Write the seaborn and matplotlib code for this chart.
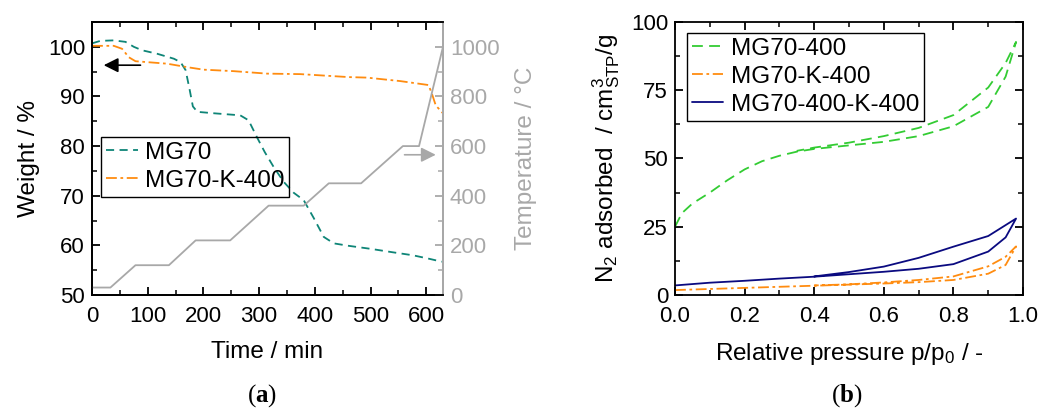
import matplotlib
matplotlib.use("Agg")
import matplotlib.pyplot as plt
import numpy as np
import pandas as pd
import seaborn as sns

########################################
# Data

# (a) thermogravimetry, weight in % against time in min
mg70_time = [0, 15, 39, 60, 75, 90, 117, 147, 159, 168, 175, 181, 189, 220, 266, 281,
             296, 310, 326, 344, 362, 380, 398, 416, 434, 461, 500, 540, 576, 605, 628]
mg70_weight = [100.7, 101.2, 101.3, 101.0, 100.0, 99.3, 98.6, 97.6, 96.9, 95.3, 91.5, 88.0,
               86.9, 86.6, 86.2, 85.2, 81.8, 78.8, 75.8, 72.8, 70.6, 69.1, 65.5, 61.7,
               60.4, 59.9, 59.3, 58.6, 58.0, 57.3, 56.7]

mgk_time = [0, 39, 54, 66, 78, 135, 171, 200, 254, 314, 374, 461, 493, 553, 604, 610,
            617, 630]
mgk_weight = [100.2, 100.2, 99.6, 97.9, 97.1, 96.6, 95.9, 95.4, 95.1, 94.6, 94.5, 93.9,
              93.8, 93.1, 92.3, 90.6, 88.2, 86.6]

# furnace temperature programme, °C
temp_time = [0, 33, 78, 138, 186, 248, 317, 380, 425, 483, 558, 587, 630]
temp_value = [30, 30, 120, 120, 220, 220, 360, 360, 450, 450, 600, 600, 1000]

# (b) N2 isotherms: adsorption branch followed by desorption branch
p_green = [0.0, 0.02, 0.05, 0.1, 0.15, 0.2, 0.25, 0.3, 0.35, 0.4, 0.5, 0.6, 0.7, 0.8, 0.9,
           0.95, 0.98, 0.95, 0.9, 0.8, 0.7, 0.6, 0.5, 0.4, 0.35]
n2_green = [25.0, 30.0, 33.5, 37.5, 42.0, 46.0, 49.0, 51.0, 52.5, 53.5, 54.8, 56.1, 58.2,
            61.8, 68.9, 80.0, 92.7, 85.0, 76.0, 65.9, 61.2, 58.2, 55.8, 54.0, 52.8]

p_orange = [0.0, 0.1, 0.2, 0.3, 0.4, 0.5, 0.6, 0.7, 0.8, 0.9, 0.95, 0.98, 0.95, 0.9, 0.8,
            0.7, 0.6, 0.5, 0.4]
n2_orange = [1.8, 2.2, 2.6, 3.0, 3.4, 3.8, 4.2, 4.7, 5.5, 7.8, 11.0, 17.8, 14.0, 10.5,
             6.8, 5.5, 4.6, 3.9, 3.5]

p_blue = [0.0, 0.1, 0.2, 0.3, 0.4, 0.5, 0.6, 0.7, 0.8, 0.9, 0.95, 0.98, 0.95, 0.9, 0.8,
          0.7, 0.6, 0.5, 0.4]
n2_blue = [3.5, 4.5, 5.2, 6.0, 6.7, 7.6, 8.5, 9.6, 11.3, 15.9, 21.1, 28.0, 25.6, 21.6,
           17.7, 13.6, 10.4, 8.4, 6.8]

########################################
# Style

sns.set_theme(style="ticks")
rc = plt.rcParams
rc["font.family"] = ["Liberation Sans", "DejaVu Sans"]
rc["mathtext.fontset"] = "custom"
rc["mathtext.rm"] = "Liberation Sans"
rc["mathtext.it"] = "Liberation Sans:italic"
rc["mathtext.bf"] = "Liberation Serif:bold"
rc["font.size"] = 16
rc["axes.labelsize"] = 17.5
rc["xtick.labelsize"] = 16
rc["ytick.labelsize"] = 16
rc["legend.fontsize"] = 17.5
rc["axes.edgecolor"] = "black"
rc["axes.labelcolor"] = "black"
rc["xtick.color"] = "black"
rc["ytick.color"] = "black"
rc["text.color"] = "black"
rc["axes.linewidth"] = 1.3
rc["xtick.direction"] = "in"
rc["ytick.direction"] = "in"
rc["xtick.major.size"] = 6
rc["ytick.major.size"] = 6
rc["xtick.minor.size"] = 3.5
rc["ytick.minor.size"] = 3.5
rc["xtick.major.width"] = 1.3
rc["ytick.major.width"] = 1.3
rc["xtick.minor.width"] = 1.1
rc["ytick.minor.width"] = 1.1
rc["xtick.major.pad"] = 8
rc["ytick.major.pad"] = 5

teal = "#0e8577"
orange = "#ff8c10"
green = "#33cc33"
navy = "#0a0a80"
grey = "#a8a8a8"

legend_kw = dict(loc="upper left", borderaxespad=0, fancybox=False, edgecolor="black",
                 facecolor="none", framealpha=1, handlelength=1.3, borderpad=0.2,
                 labelspacing=0.25, handletextpad=0.3)

fig = plt.figure(figsize=(10.47, 4.16), dpi=100)
ax_a = fig.add_axes([0.0879, 0.2909, 0.3352, 0.6562])
ax_b = fig.add_axes([0.6447, 0.2909, 0.3324, 0.6562])

########################################
# (a) weight and temperature against time

sns.lineplot(x=mg70_time, y=mg70_weight, ax=ax_a, color=teal, lw=1.3,
             linestyle=(0, (4.5, 3)), label="MG70", sort=False, estimator=None)
sns.lineplot(x=mgk_time, y=mgk_weight, ax=ax_a, color=orange, lw=1.3,
             linestyle=(0, (6, 2, 1.5, 2)), label="MG70-K-400", sort=False, estimator=None)
ax_a.set_xlim(0, 630)
ax_a.set_ylim(50, 105)
ax_a.set_xticks(range(0, 601, 100))
ax_a.set_xticks(range(0, 631, 50), minor=True)
ax_a.set_yticks(range(50, 101, 10))
ax_a.set_yticks(range(50, 106, 5), minor=True)
ax_a.tick_params(which="both", top=True, right=False)
ax_a.set_xlabel("Time / min", labelpad=10)
ax_a.set_ylabel("Weight / %", labelpad=6)
ax_a.spines["right"].set_color(grey)
ax_a.legend(bbox_to_anchor=(0.026, 0.579), **legend_kw)
ax_a.get_legend().get_frame().set_linewidth(1.0)

ax_t = ax_a.twinx()
sns.lineplot(x=temp_time, y=temp_value, ax=ax_t, color=grey, lw=1.3,
             sort=False, estimator=None)
ax_t.set_ylim(0, 1100)
ax_t.set_yticks(range(0, 1001, 200))
ax_t.set_yticks(range(0, 1101, 100), minor=True)
ax_t.tick_params(which="both", colors=grey, labelcolor=grey)
ax_t.spines["right"].set_color(grey)
ax_t.spines["right"].set_linewidth(1.3)
ax_t.set_ylabel("Temperature / °C", color=grey, labelpad=11)

ax_a.annotate("", xy=(16, 96.3), xytext=(92, 96.3),
              arrowprops=dict(arrowstyle="-|>", color="black", lw=1.2, mutation_scale=22))
ax_t.annotate("", xy=(622, 565), xytext=(556, 565),
              arrowprops=dict(arrowstyle="-|>", color=grey, lw=1.2, mutation_scale=22))

########################################
# (b) N2 adsorption / desorption isotherms

sns.lineplot(x=p_green, y=n2_green, ax=ax_b, color=green, lw=1.3,
             linestyle=(0, (6, 3.5)), label="MG70-400", sort=False, estimator=None)
sns.lineplot(x=p_orange, y=n2_orange, ax=ax_b, color=orange, lw=1.3,
             linestyle=(0, (6, 2, 1.5, 2)), label="MG70-K-400", sort=False, estimator=None)
sns.lineplot(x=p_blue, y=n2_blue, ax=ax_b, color=navy, lw=1.3,
             label="MG70-400-K-400", sort=False, estimator=None)
ax_b.set_xlim(0, 1.0)
ax_b.set_ylim(0, 100)
ax_b.set_xticks(np.arange(0, 1.01, 0.2))
ax_b.set_xticks(np.arange(0, 1.01, 0.1), minor=True)
ax_b.set_yticks([0, 25, 50, 75, 100])
ax_b.set_yticks(np.arange(0, 100.1, 12.5), minor=True)
ax_b.tick_params(which="both", top=True, right=True)
ax_b.set_xlabel("Relative pressure p/p$_0$ / -", labelpad=10)
ax_b.set_ylabel("N$_2$ adsorbed  / cm$^3_{\\mathrm{STP}}$/g", labelpad=6)
ax_b.legend(bbox_to_anchor=(0.034, 0.96), **legend_kw)
ax_b.get_legend().get_frame().set_linewidth(1.0)

########################################
# Sub captions

fig.text(0.250, 0.05, "($\\mathbf{a}$)", family="Liberation Serif", fontsize=18,
         ha="center", va="center")
fig.text(0.809, 0.05, "($\\mathbf{b}$)", family="Liberation Serif", fontsize=18,
         ha="center", va="center")

fig.savefig("out.png", dpi=100)
